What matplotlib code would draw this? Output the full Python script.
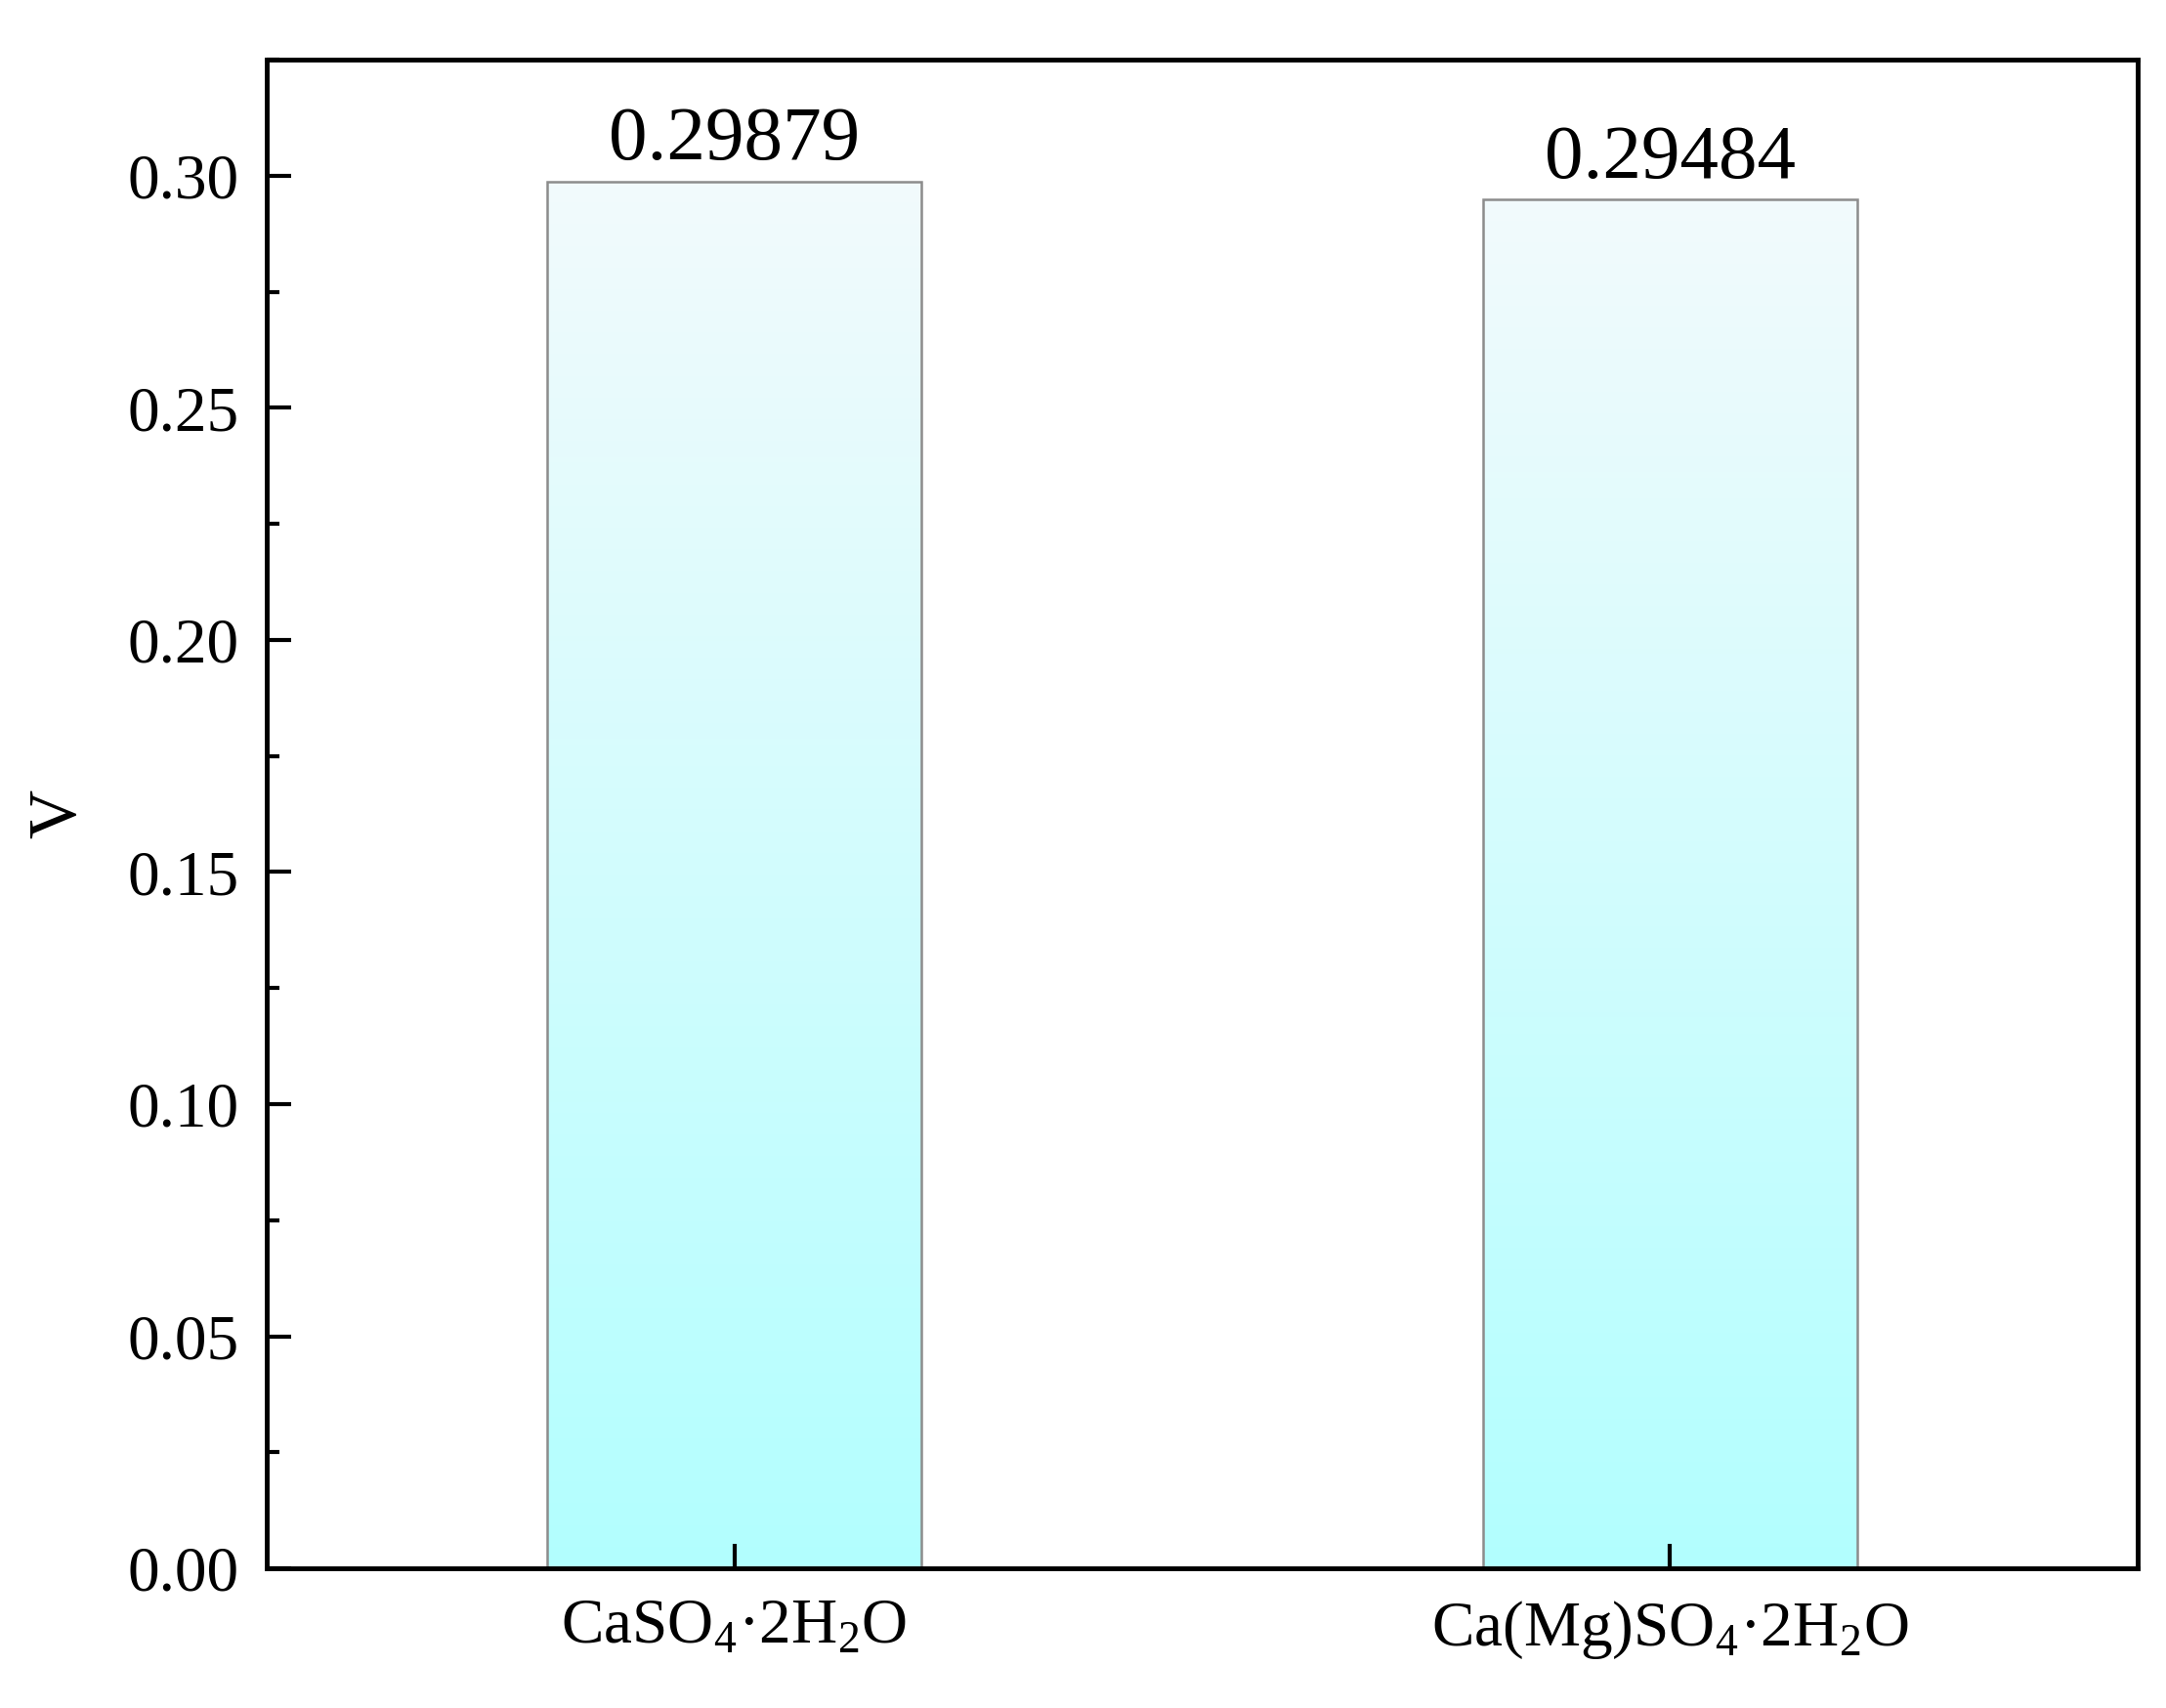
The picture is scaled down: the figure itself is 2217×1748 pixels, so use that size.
import numpy as np
import matplotlib
matplotlib.use('Agg')
import matplotlib.pyplot as plt
from matplotlib.ticker import MultipleLocator

plt.rcParams['font.family'] = ['Liberation Serif', 'DejaVu Serif']
plt.rcParams['mathtext.fontset'] = 'custom'
plt.rcParams['mathtext.rm'] = 'Liberation Serif'

categories = [r'CaSO$_\mathregular{4}$·2H$_\mathregular{2}$O',
              r'Ca(Mg)SO$_\mathregular{4}$·2H$_\mathregular{2}$O']
values = [0.29879, 0.29484]
value_labels = ['0.29879', '0.29484']
y_ticks = [0.00, 0.05, 0.10, 0.15, 0.20, 0.25, 0.30]

fig = plt.figure(figsize=(22.17, 17.48), dpi=100)
ax = fig.add_axes([0.123, 0.0817, 0.864, 0.8834])

x = np.arange(len(categories))
bars = ax.bar(x, values, width=0.4, color='none', edgecolor='#8c8c8c',
              linewidth=1.8, zorder=1.5)

# vertical gradient fill, light at the top, cyan at the bottom
top_c = np.array([242, 250, 252]) / 255
bot_c = np.array([178, 255, 255]) / 255
t = np.linspace(0, 1, 256)[:, None]
grad = (top_c * (1 - t) + bot_c * t)[:, None, :]
for bar in bars:
    x0 = bar.get_x()
    h = bar.get_height()
    im = ax.imshow(grad, extent=[x0, x0 + bar.get_width(), 0, h],
                   aspect='auto', origin='upper', zorder=1)
    im.set_clip_path(bar)

for bar, lab in zip(bars, value_labels):
    ax.annotate(lab, (bar.get_x() + bar.get_width() / 2, bar.get_height()),
                xytext=(0, 4), textcoords='offset points',
                ha='center', va='bottom', fontsize=57)

ax.set_xlim(-0.5, 1.5)
ax.set_ylim(0, 0.325)
ax.set_xticks(x)
ax.set_xticklabels(categories, fontsize=47)
ax.set_yticks(y_ticks)
ax.set_yticklabels([f'{v:.2f}' for v in y_ticks], fontsize=47)
ax.yaxis.set_minor_locator(MultipleLocator(0.025))
ax.set_ylabel('V', fontsize=50, labelpad=28)

ax.tick_params(axis='both', which='major', direction='in', length=18,
               width=3, pad=20)
ax.tick_params(axis='y', which='minor', direction='in', length=9, width=3)
ax.tick_params(axis='x', pad=22)
for s in ax.spines.values():
    s.set_linewidth(3.5)
    s.set_zorder(5)

fig.savefig('out.png', dpi=100)
